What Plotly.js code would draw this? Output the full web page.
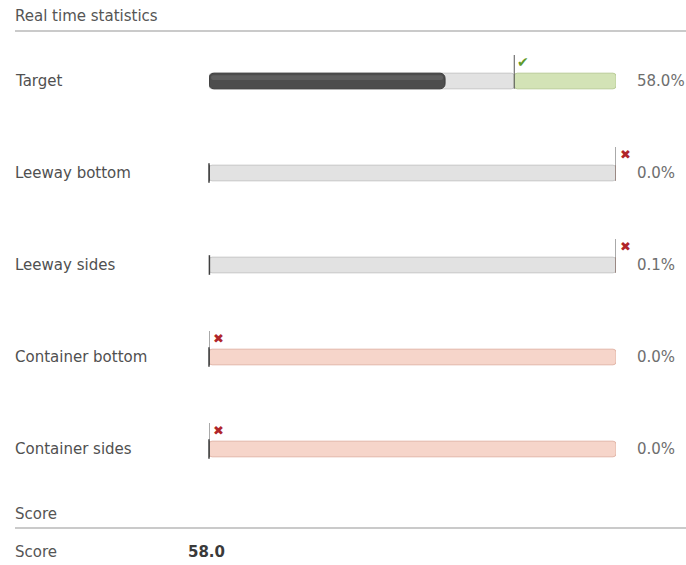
<!DOCTYPE html>
<html>
<head>
<meta charset="utf-8">
<script src="https://cdn.plot.ly/plotly-3.0.1.min.js"></script>
<style>
  html, body { margin: 0; padding: 0; background: #fff; }
  #chart { width: 686px; height: 565px; }
</style>
</head>
<body>
<div id="chart"></div>
<script>
// Real-time statistics: one bullet bar per metric (percent of range)
const metrics    = ['Target', 'Leeway bottom', 'Leeway sides', 'Container bottom', 'Container sides'];
const values     = [58.0, 0.0, 0.1, 0.0, 0.0];
const thresholds = [75, 100, 100, 0, 0];
const passed     = [true, false, false, false, false];
const zoneKind   = ['good', 'bad', 'bad', 'bad', 'bad'];
const scoreValue = 58.0;

const FONT = 'DejaVu Sans, Verdana, sans-serif';
const FS = 15;
const rows = metrics.map((_, i) => i);
const BAR_W = 0.17;         // bar thickness in row units
const PX_PER_ROW = 92;

const zoneFill = { good: '#d3e3b6', bad: '#f6d5ca' };
const zoneLine = { good: '#b9cc98', bad: '#e2b6a8' };

// grey part from 0 up to the threshold
const greyTrace = {
  type: 'bar', orientation: 'h',
  y: rows, base: rows.map(() => 0), x: thresholds,
  width: BAR_W,
  marker: { color: '#e2e2e2', line: { color: '#c6c6c6', width: 1 }, cornerradius: 3 },
  hoverinfo: 'skip'
};

// coloured zone from the threshold to 100 %
const zoneTrace = {
  type: 'bar', orientation: 'h',
  y: rows, base: thresholds, x: thresholds.map(t => 100 - t),
  width: BAR_W,
  marker: {
    color: zoneKind.map(k => zoneFill[k]),
    line: { color: zoneKind.map(k => zoneLine[k]), width: 1 },
    cornerradius: 3
  },
  hoverinfo: 'skip'
};

// measured value
const valueTrace = {
  type: 'bar', orientation: 'h',
  y: rows, base: rows.map(() => 0), x: values,
  width: BAR_W,
  marker: { color: '#4d4d4d', line: { color: '#3a3a3a', width: 1 }, cornerradius: 5 },
  hoverinfo: 'skip'
};

// soft highlight on the upper half of the value bar
const valueShine = {
  type: 'bar', orientation: 'h',
  y: rows, base: rows.map(() => 0.5), x: values.map(v => Math.max(v - 1.0, 0)),
  width: BAR_W * 0.3, offset: -BAR_W * 0.36,
  marker: { color: 'rgba(255,255,255,0.10)', cornerradius: 2 },
  hoverinfo: 'skip'
};

// small tick marking near-zero values, where the bar itself is too thin to see
const valueTick = {
  type: 'scatter', mode: 'markers',
  x: values, y: rows,
  marker: {
    symbol: 'line-ns', size: 14,
    opacity: values.map(v => (v < 1 ? 1 : 0)),
    line: { color: '#3f3f3f', width: 1.5 }
  },
  cliponaxis: false, hoverinfo: 'skip'
};

const shapes = [];
const annotations = [];

rows.forEach(i => {
  // threshold line with its pass/fail symbol
  shapes.push({
    type: 'line', xref: 'x', yref: 'y',
    x0: thresholds[i], x1: thresholds[i],
    y0: i + BAR_W / 2, y1: i - 26 / PX_PER_ROW,
    line: { color: '#555', width: 1 }
  });
  annotations.push({
    xref: 'x', yref: 'y', x: thresholds[i], y: i,
    text: passed[i] ? '✔' : '✖',
    showarrow: false, xanchor: 'center', yanchor: 'middle',
    xshift: 9, yshift: 19,
    font: { family: FONT, size: passed[i] ? 14 : 13, color: passed[i] ? '#5f9a2c' : '#b0262a' }
  });
  // metric name
  annotations.push({
    xref: 'paper', yref: 'y', x: 13 / 686, y: i,
    text: metrics[i], showarrow: false, xanchor: 'left', yanchor: 'middle',
    font: { family: FONT, size: FS, color: '#505050' }
  });
  // value in percent
  annotations.push({
    xref: 'x', yref: 'y', x: 100, y: i,
    text: values[i].toFixed(1) + '%', showarrow: false, xanchor: 'left', yanchor: 'middle',
    xshift: 19,
    font: { family: FONT, size: FS, color: '#6e6e6e' }
  });
});

// section headers and score row
const H = 565, W = 686;
const py = px => 1 - px / H;
annotations.push(
  { xref: 'paper', yref: 'paper', x: 13 / W, y: py(16), text: 'Real time statistics',
    showarrow: false, xanchor: 'left', yanchor: 'middle', font: { family: FONT, size: FS, color: '#555' } },
  { xref: 'paper', yref: 'paper', x: 13 / W, y: py(514), text: 'Score',
    showarrow: false, xanchor: 'left', yanchor: 'middle', font: { family: FONT, size: FS, color: '#555' } },
  { xref: 'paper', yref: 'paper', x: 13 / W, y: py(552), text: 'Score',
    showarrow: false, xanchor: 'left', yanchor: 'middle', font: { family: FONT, size: FS, color: '#555' } },
  { xref: 'paper', yref: 'paper', x: 186 / W, y: py(552), text: '<b>' + scoreValue.toFixed(1) + '</b>',
    showarrow: false, xanchor: 'left', yanchor: 'middle', font: { family: FONT, size: FS, color: '#3a3a3a' } }
);
shapes.push(
  { type: 'line', xref: 'paper', yref: 'paper', x0: 15 / W, x1: 1, y0: py(31), y1: py(31),
    line: { color: '#b8b8b8', width: 1.5 } },
  { type: 'line', xref: 'paper', yref: 'paper', x0: 15 / W, x1: 1, y0: py(528), y1: py(528),
    line: { color: '#b8b8b8', width: 1.5 } }
);

const layout = {
  width: W, height: H,
  margin: { l: 0, r: 0, t: 0, b: 0 },
  paper_bgcolor: '#fff', plot_bgcolor: '#fff',
  barmode: 'overlay', showlegend: false,
  xaxis: { range: [0, 100], domain: [209 / W, 616 / W], visible: false, fixedrange: true },
  yaxis: { range: [4.5, -0.5], domain: [70 / H, 530 / H], visible: false, fixedrange: true },
  shapes, annotations
};

Plotly.newPlot('chart', [greyTrace, zoneTrace, valueTrace, valueShine, valueTick], layout,
  { displayModeBar: false, staticPlot: true });
</script>
</body>
</html>
